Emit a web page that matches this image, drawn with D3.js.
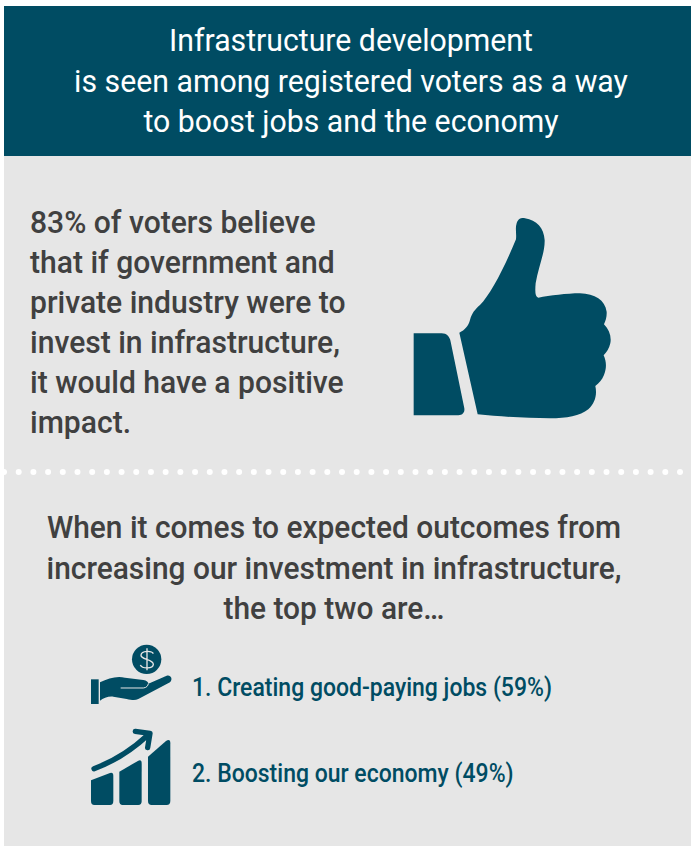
<!DOCTYPE html>
<html>
<head>
<meta charset="utf-8">
<script src="https://cdn.jsdelivr.net/npm/d3@7"></script>
<style>
html, body { margin: 0; padding: 0; background: #fff; }
svg { display: block; }
text { font-family: Roboto, sans-serif; font-weight: 500; }
</style>
</head>
<body>
<svg id="chart"></svg>
<script>
const headerLines = ['Infrastructure development', 'is seen among registered voters as a way', 'to boost jobs and the economy'];
const bodyLines = ['83% of voters believe', 'that if government and', 'private industry were to', 'invest in infrastructure,', 'it would have a positive', 'impact.'];
const outcomeIntro = ['When it comes to expected outcomes from', 'increasing our investment in infrastructure,', 'the top two are…'];
const outcomeNames = ['Creating good-paying jobs', 'Boosting our economy'];
const outcomeShares = [59, 49];

const width = 691;
const height = 846;
const teal = '#004c63';
const grey = '#e6e6e6';
const ink = '#404040';

const svg = d3.select('#chart').attr('width', width).attr('height', height);

svg.append('rect').attr('x', 4).attr('y', 156).attr('width', width - 4).attr('height', height - 156).attr('fill', grey);
svg.append('rect').attr('x', 4).attr('y', 6).attr('width', width - 4).attr('height', 150).attr('fill', teal);

// squeezes a block of text the way the condensed original font sits
const drawLines = (lines, opts) => {
    svg.selectAll(null)
        .data(lines)
        .enter()
        .append('text')
        .attr('transform', (d, i) => `translate(${opts.x}, ${opts.y + i * opts.step}) scale(${opts.squeeze}, 1)`)
        .attr('text-anchor', opts.anchor)
        .attr('font-size', opts.size)
        .style('font-weight', opts.weight || 500)
        .attr('fill', opts.fill)
        .text(d => d);
};

drawLines(headerLines, { x: 351, y: 51, step: 40.5, size: 32, squeeze: 0.945, weight: 400, anchor: 'middle', fill: '#fff' });
drawLines(bodyLines, { x: 30, y: 233, step: 40, size: 32, squeeze: 0.94, anchor: 'start', fill: ink });
drawLines(outcomeIntro, { x: 334, y: 538, step: 40.5, size: 32, squeeze: 0.935, anchor: 'middle', fill: ink });
drawLines(outcomeNames.map((d, i) => `${i + 1}. ${d} (${outcomeShares[i]}%)`),
    { x: 192, y: 696, step: 86, size: 25, squeeze: 0.92, anchor: 'start', fill: teal });

// dotted separator
const dotX = d3.scaleLinear().domain([0, 46]).range([4, 680]);
svg.append('g').selectAll('circle')
    .data(d3.range(47))
    .enter()
    .append('circle')
    .attr('cx', d => dotX(d))
    .attr('cy', 472)
    .attr('r', 3)
    .attr('fill', '#fff');

// thumbs up
const thumb = svg.append('g').attr('transform', 'translate(400, 200) scale(0.3333)').attr('fill', teal);
thumb.append('path').attr('d', 'M41,400 L125,400 C140,400 149,410 152,425 L193,625 C195,638 187,646 175,646 L41,646 Z');
thumb.append('path').attr('d', 'M178,398 C195,390 205,378 210,360 C215,340 225,328 240,315 C270,285 310,210 348,118 C350,100 345,85 350,70 C355,55 365,53 375,55 C410,60 432,85 434,120 C435,160 415,200 407,250 C405,275 405,290 415,293 C450,287 500,280 540,280 C585,282 615,300 620,335 C621,350 617,362 612,373 C628,390 635,410 631,430 C628,445 620,457 611,466 C620,485 620,505 612,525 C606,540 597,550 586,558 C592,585 585,610 565,628 C540,648 500,655 450,655 C380,655 300,650 233,643 Z');

// hand with coin, rising bars
const icons = svg.append('g').attr('transform', 'translate(80, 635) scale(0.3333)').attr('fill', teal);
icons.append('circle').attr('cx', 200).attr('cy', 73).attr('r', 44);
icons.append('path').attr('d', 'M220,56 C215,46 185,46 183,60 C181,74 220,72 220,88 C219,102 187,102 181,90 M201,40 V106')
    .attr('fill', 'none').attr('stroke', grey).attr('stroke-width', 4);
icons.append('rect').attr('x', 33).attr('y', 133).attr('width', 23).attr('height', 74);
icons.append('path').attr('d', 'M60,142 C85,130 110,122 135,128 L190,135 C200,137 205,141 205,146 L260,122 C272,118 280,132 270,142 L175,192 C165,197 155,195 140,192 L100,185 C85,183 70,190 60,197 Z');
icons.append('path').attr('d', 'M122,159 H190 C200,158 204,152 205,146').attr('fill', 'none').attr('stroke', grey).attr('stroke-width', 3);
icons.append('path').attr('d', 'M33,436 L90,414 Q100,411 100,423 V498 Q100,510 90,510 H43 Q33,510 33,498 Z');
icons.append('path').attr('d', 'M118,410 L175,377 Q185,373 185,385 V498 Q185,510 175,510 H128 Q118,510 118,498 Z');
icons.append('path').attr('d', 'M204,365 L258,318 Q271,310 271,325 V498 Q271,510 260,510 H215 Q204,510 204,498 Z');
icons.append('path').attr('d', 'M42,401 C100,380 150,350 204,300 M166,289 L210,295 L203,338')
    .attr('fill', 'none').attr('stroke', teal).attr('stroke-width', 16).attr('stroke-linecap', 'round').attr('stroke-linejoin', 'round');
</script>
</body>
</html>
